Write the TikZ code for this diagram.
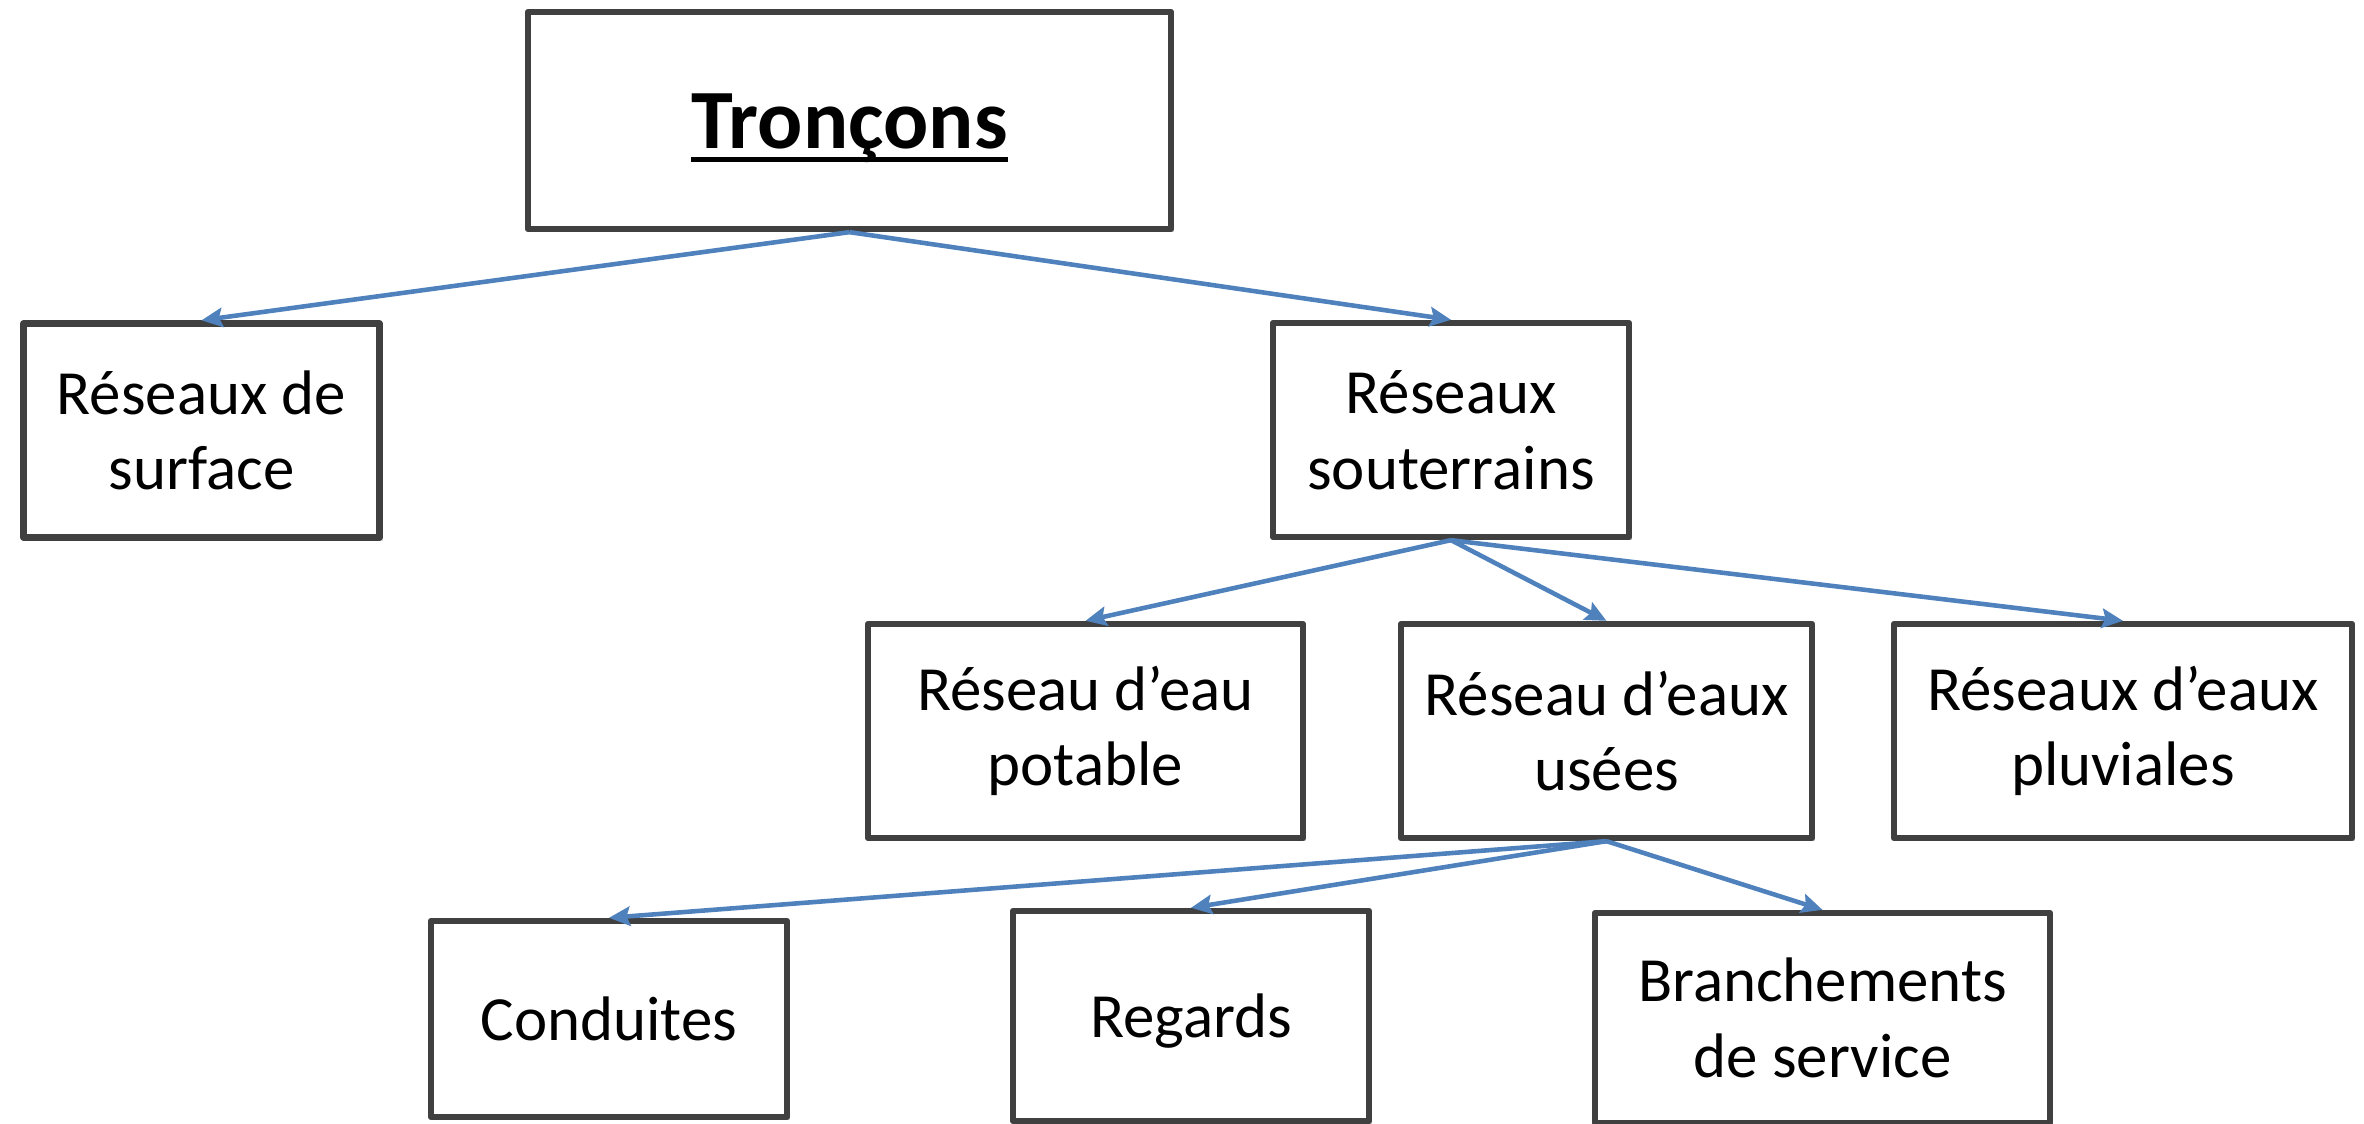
\documentclass[tikz,border=0pt]{standalone}
\usepackage{fontspec}
\setmainfont{Carlito}
\usetikzlibrary{arrows.meta,shapes,shadows}
\definecolor{boxgray}{HTML}{404040}
\definecolor{linkblue}{HTML}{4F81BD}
\newsavebox\ulsave
\newcommand\thickul[1]{\sbox\ulsave{#1}\rlap{\smash{\rule[-3.8pt]{\wd\ulsave}{1.5pt}}}\usebox\ulsave}
\tikzstyle{box}=[draw=boxgray,line width=1.8pt,line join=round,fill=white,
                 align=center,inner sep=0pt,font=\fontsize{17.9}{21.5}\selectfont,
                 drop shadow={shadow xshift=0.9pt,shadow yshift=-0.9pt,opacity=0.3}]
\tikzstyle{small}=[minimum width=3.56cm,minimum height=2.14cm]
\tikzstyle{link}=[-{Stealth[length=6pt,width=5.5pt,inset=1pt]},draw=linkblue,line width=1.3pt]

\begin{document}
\begin{tikzpicture}
\useasboundingbox (0,0) rectangle (23.64,-11.24);
% top
\node[box,minimum width=6.43cm,minimum height=2.17cm,text height=21pt,text depth=5pt,
      font=\fontsize{24}{28}\selectfont\bfseries] (tron) at (8.495,-1.205) {\thickul{Tronçons}};
% second row
\node[box,small] (surf) at (2.015,-4.305) {Réseaux de\\surface};
\node[box,small] (sout) at (14.51,-4.30) {Réseaux\\souterrains};
% third row
\node[box,minimum width=4.35cm,minimum height=2.14cm] (pot) at (10.855,-7.31) {Réseau d’eau\\potable};
\node[box,minimum width=4.11cm,minimum height=2.14cm] (use) at (16.065,-7.31) {Réseau d’eaux\\usées};
\node[box,minimum width=4.58cm,minimum height=2.14cm] (pluv) at (21.23,-7.31) {Réseaux d’eaux\\pluviales};
% bottom row
\node[box,minimum width=3.56cm,minimum height=1.96cm] (cond) at (6.09,-10.19) {Conduites};
\node[box,minimum width=3.56cm,minimum height=2.10cm,text height=16.5pt,text depth=4pt] (reg) at (11.91,-10.16) {Regards};
\node[box,minimum width=4.55cm,minimum height=2.10cm] (bran) at (18.225,-10.18) {Branchements\\de service};
% links
\draw[link] (tron.south) -- (surf.north);
\draw[link] (tron.south) -- (sout.north);
\foreach \n in {pot,use,pluv}
\draw[link] (sout.south) -- (\n.north);
\foreach \n in {cond,reg,bran}
\draw[link] (use.south) -- (\n.north);
\end{tikzpicture}
\end{document}
